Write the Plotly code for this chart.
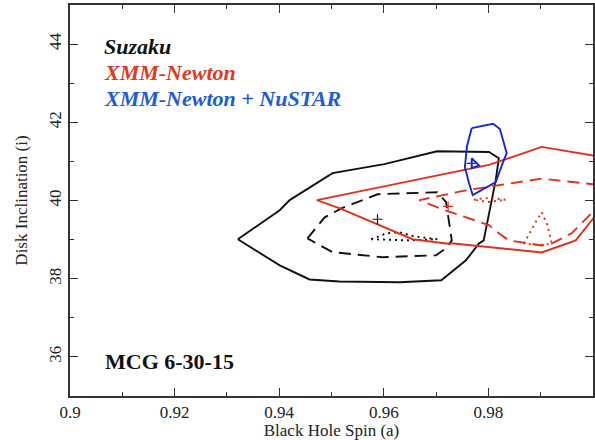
import plotly.graph_objects as go

# Suzaku contours (black)
suz99_x = [0.9321, 0.9401, 0.9420, 0.9502, 0.9601, 0.9702, 0.9801, 0.9820, 0.9814, 0.9791, 0.9782, 0.9757, 0.9710, 0.9630, 0.9515, 0.9458, 0.9401, 0.9321]
suz99_y = [39.01, 39.75, 40.01, 40.70, 40.93, 41.26, 41.24, 41.08, 40.52, 38.98, 38.90, 38.47, 37.96, 37.91, 37.93, 37.98, 38.34, 39.01]
suz90_x = [0.9454, 0.9487, 0.9519, 0.9588, 0.9702, 0.9719, 0.9730, 0.9719, 0.9700, 0.9597, 0.9502, 0.9454]
suz90_y = [39.03, 39.57, 39.80, 40.16, 40.21, 39.96, 38.98, 38.78, 38.60, 38.55, 38.68, 39.03]
suz68_x = [0.9576, 0.9605, 0.9630, 0.9658, 0.9702, 0.9649, 0.9576]
suz68_y = [39.01, 39.16, 39.19, 39.08, 39.01, 38.98, 39.01]
suz_best = (0.9588, 39.52)

# XMM-Newton contours (red)
xmm99_x = [1.0010, 0.9902, 0.9801, 0.9472, 0.9516, 0.9655, 0.9719, 0.9734, 0.9902, 0.9967, 1.0010]
xmm99_y = [41.13, 41.37, 40.91, 40.01, 39.80, 39.01, 38.90, 38.90, 38.67, 38.98, 39.70]
xmm90_x = [1.0010, 0.9902, 0.9757, 0.9668, 0.9683, 0.9711, 0.9801, 0.9820, 0.9839, 0.9902, 0.9921, 0.9959, 1.0010]
xmm90_y = [40.40, 40.56, 40.26, 40.01, 39.93, 39.78, 39.37, 39.16, 38.98, 38.85, 38.90, 39.16, 39.85]
xmm68a_x = [0.9772, 0.9800, 0.9833, 0.9800, 0.9772]
xmm68a_y = [40.02, 40.07, 40.02, 39.96, 40.02]
xmm68b_x = [0.9868, 0.9887, 0.9902, 0.9913, 0.9921, 0.9896, 0.9868]
xmm68b_y = [38.90, 39.37, 39.70, 39.37, 38.90, 38.86, 38.90]
xmm_best = (0.9723, 39.85)

# XMM-Newton + NuSTAR contours (blue)
nus99_x = [0.9768, 0.9809, 0.9822, 0.9835, 0.9828, 0.9814, 0.9770, 0.9763, 0.9755, 0.9759, 0.9768]
nus99_y = [41.85, 41.96, 41.83, 41.21, 40.98, 40.47, 40.14, 40.44, 40.85, 41.39, 41.85]
nus90_x = [0.9768, 0.9782, 0.9768, 0.9768]
nus90_y = [41.08, 40.90, 40.83, 41.08]
nus_best = (0.9768, 40.95)

BLACK = "#111111"
RED = "#E2301A"
BLUE = "#1428D8"

fig = go.Figure()

def add_line(x, y, color, dash, width=1.9):
    fig.add_trace(go.Scatter(x=x, y=y, mode="lines",
                             line=dict(color=color, width=width, dash=dash),
                             showlegend=False, hoverinfo="skip"))

add_line(suz99_x, suz99_y, BLACK, "solid")
add_line(suz90_x, suz90_y, BLACK, "12px,7px")
add_line(suz68_x, suz68_y, BLACK, "2px,4px")
add_line(xmm99_x, xmm99_y, RED, "solid")
add_line(xmm90_x, xmm90_y, RED, "12px,7px")
add_line(xmm68a_x, xmm68a_y, RED, "2px,4px")
add_line(xmm68b_x, xmm68b_y, RED, "2px,4px")
add_line(nus99_x, nus99_y, BLUE, "solid")
add_line(nus90_x, nus90_y, BLUE, "solid")

for (bx, by), c in [(suz_best, BLACK), (xmm_best, RED), (nus_best, BLUE)]:
    fig.add_trace(go.Scatter(x=[bx], y=[by], mode="markers",
                             marker=dict(symbol="cross-thin", size=7,
                                         line=dict(color=c, width=1.2)),
                             showlegend=False, hoverinfo="skip"))

serif = "Liberation Serif"
labels = [("<b><i>Suzaku</i></b>", BLACK, 0.8926),
          ("<b><i>XMM-Newton</i></b>", "#E03A1E", 0.8286),
          ("<b><i>XMM-Newton + NuSTAR</i></b>", "#1E5BD8", 0.762)]
for txt, col, yy in labels:
    fig.add_annotation(x=0.062, y=yy, xref="paper", yref="paper", text=txt,
                       showarrow=False, xanchor="left", yanchor="middle",
                       font=dict(family=serif, size=22, color=col))
fig.add_annotation(x=0.063, y=0.087, xref="paper", yref="paper",
                   text="<b>MCG 6-30-15</b>", showarrow=False,
                   xanchor="left", yanchor="middle",
                   font=dict(family=serif, size=22, color=BLACK))

axis_common = dict(showline=True, linecolor="#333333", linewidth=1.5,
                   mirror="ticks", ticks="inside", ticklen=8, tickwidth=1.2,
                   tickcolor="#333333", showgrid=False, zeroline=False,
                   tickfont=dict(family=serif, size=17, color="#222222"),
                   title_font=dict(family=serif, size=17, color="#222222"))

fig.update_xaxes(range=[0.9, 1.0], tickvals=[0.9, 0.92, 0.94, 0.96, 0.98],
                 ticktext=["0.9", "0.92", "0.94", "0.96", "0.98"],
                 minor=dict(dtick=0.01, ticks="inside", ticklen=4, tickwidth=1.2,
                            tickcolor="#333333", showgrid=False),
                 title_text="Black Hole Spin (a)", title_standoff=4,
                 **axis_common)
fig.update_yaxes(range=[35, 45], tickvals=[36, 38, 40, 42, 44], tickangle=-90,
                 minor=dict(dtick=1, ticks="inside", ticklen=4, tickwidth=1.2,
                            tickcolor="#333333", showgrid=False),
                 title_text="Disk Inclination (i)", title_standoff=15,
                 **axis_common)

fig.update_layout(width=595, height=440,
                  margin=dict(l=70, r=0, t=5, b=44),
                  plot_bgcolor="white", paper_bgcolor="white",
                  showlegend=False)

fig.write_html("out.html")
